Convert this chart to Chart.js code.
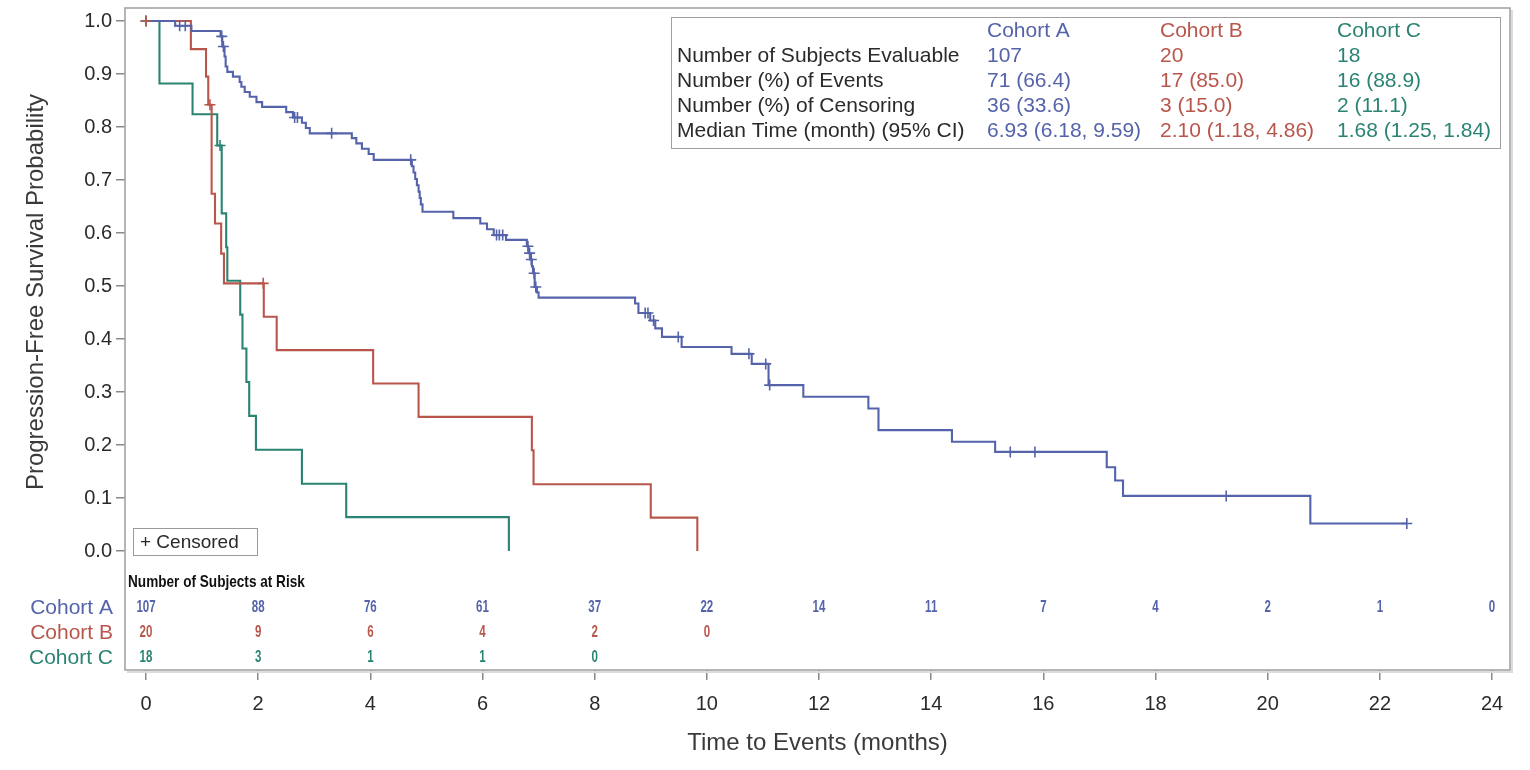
<!DOCTYPE html>
<html>
<head>
<meta charset="utf-8">
<script src="https://cdn.jsdelivr.net/npm/chart.js@4.4.1/dist/chart.umd.min.js"></script>
<style>
html,body{margin:0;padding:0;background:#fff;}
#wrap{width:1530px;height:770px;position:relative;}
</style>
</head>
<body>
<div id="wrap"><canvas id="c"></canvas></div>
<script>
// ---------------- DATA ----------------
const cohorts = ['Cohort A', 'Cohort B', 'Cohort C'];

// Kaplan-Meier step curves: time of each step and survival level after it
const timesA = [0, 0.52, 0.81, 1.33, 1.36, 1.40, 1.42, 1.45, 1.55, 1.67, 1.70, 1.76, 1.85, 1.97, 2.07, 2.50, 2.62, 2.78, 2.85, 2.92, 3.67, 3.75, 3.85, 3.97, 4.06, 4.74, 4.77, 4.80, 4.83, 4.86, 4.88, 4.90, 4.93, 5.48, 5.96, 6.08, 6.20, 6.42, 6.79, 6.82, 6.85, 6.88, 6.90, 6.93, 6.97, 7.00, 8.72, 8.78, 8.99, 9.08, 9.20, 9.55, 10.44, 10.80, 11.10, 11.72, 12.88, 13.06, 14.37, 15.14, 17.13, 17.28, 17.42, 20.76, 22.48];
const survA  = [1.0, 0.991, 0.981, 0.971, 0.952, 0.933, 0.914, 0.904, 0.895, 0.885, 0.876, 0.866, 0.857, 0.847, 0.838, 0.828, 0.818, 0.808, 0.798, 0.788, 0.779, 0.769, 0.759, 0.749, 0.738, 0.726, 0.714, 0.702, 0.690, 0.678, 0.666, 0.654, 0.640, 0.628, 0.618, 0.607, 0.596, 0.587, 0.575, 0.562, 0.550, 0.537, 0.524, 0.498, 0.488, 0.478, 0.467, 0.449, 0.435, 0.420, 0.404, 0.385, 0.372, 0.353, 0.313, 0.291, 0.269, 0.228, 0.206, 0.187, 0.158, 0.133, 0.104, 0.052, 0.052];
const censorA = [0.60, 0.70, 1.35, 1.38, 2.65, 2.70, 3.31, 4.72, 6.25, 6.30, 6.36, 6.81, 6.84, 6.87, 6.92, 6.95, 8.90, 8.95, 9.05, 9.49, 10.75, 11.05, 11.12, 15.41, 15.85, 19.26, 22.48];

const timesB = [0, 0.80, 1.07, 1.11, 1.17, 1.23, 1.34, 1.39, 2.10, 2.33, 4.05, 4.86, 6.88, 6.91, 9.00, 9.83];
const survB  = [1.0, 0.947, 0.895, 0.842, 0.674, 0.618, 0.561, 0.505, 0.442, 0.379, 0.316, 0.253, 0.190, 0.126, 0.063, 0.0];
const censorB = [0.0, 1.14, 2.09];

const timesC = [0, 0.24, 0.83, 1.27, 1.35, 1.43, 1.45, 1.68, 1.72, 1.79, 1.84, 1.96, 2.78, 3.57, 6.47];
const survC  = [1.0, 0.882, 0.824, 0.765, 0.637, 0.573, 0.510, 0.446, 0.382, 0.319, 0.255, 0.191, 0.127, 0.064, 0.0];
const censorC = [0.0, 1.32];

const xTicks = [0, 2, 4, 6, 8, 10, 12, 14, 16, 18, 20, 22, 24];
const yTicks = [0.0, 0.1, 0.2, 0.3, 0.4, 0.5, 0.6, 0.7, 0.8, 0.9, 1.0];

// Number of subjects at risk at each x tick
const riskA = [107, 88, 76, 61, 37, 22, 14, 11, 7, 4, 2, 1, 0];
const riskB = [20, 9, 6, 4, 2, 0];
const riskC = [18, 3, 1, 1, 0];

// Summary table
const statLabels = ['Number of Subjects Evaluable', 'Number (%) of Events', 'Number (%) of Censoring', 'Median Time (month) (95% CI)'];
const statA = ['107', '71 (66.4)', '36 (33.6)', '6.93 (6.18, 9.59)'];
const statB = ['20', '17 (85.0)', '3 (15.0)', '2.10 (1.18, 4.86)'];
const statC = ['18', '16 (88.9)', '2 (11.1)', '1.68 (1.25, 1.84)'];

// ---------------- STYLE ----------------
const COLORS = ['#5563aa', '#b9564c', '#2b8473'];
const FONT = '"Liberation Sans", Arial, sans-serif';
const TEXT = '#2a2a2a';

function levelAt(times, surv, t) {
  let v = surv[0];
  for (let i = 0; i < times.length; i++) if (times[i] <= t) v = surv[i];
  return v;
}
function stepPoints(times, surv) { return times.map((t, i) => ({x: t, y: surv[i]})); }
function censorPoints(cens, times, surv) { return cens.map(t => ({x: t, y: levelAt(times, surv, t)})); }

const curves = [[timesA, survA, censorA], [timesB, survB, censorB], [timesC, survC, censorC]];
const lineSets = curves.map((c, i) => ({
  type: 'line', label: cohorts[i], data: stepPoints(c[0], c[1]), stepped: true,
  borderColor: COLORS[i], borderWidth: 2.1, pointRadius: 0, fill: false, order: 1
}));
const censSets = curves.map((c, i) => ({
  type: 'scatter', label: cohorts[i] + ' censored', data: censorPoints(c[2], c[0], c[1]),
  pointStyle: 'cross', pointRadius: 5.5, pointBorderWidth: 1.6,
  borderColor: COLORS[i], backgroundColor: COLORS[i], showLine: false, order: 0
}));

const decorPlugin = {
  id: 'decor',
  afterDraw(chart) {
    const ctx = chart.ctx, a = chart.chartArea, xs = chart.scales.x, ys = chart.scales.y;
    ctx.save();
    // frame
    ctx.strokeStyle = '#dcdcdc'; ctx.lineWidth = 2;
    ctx.beginPath(); ctx.moveTo(a.right + 2, a.top + 2); ctx.lineTo(a.right + 2, a.bottom + 2); ctx.lineTo(a.left + 2, a.bottom + 2); ctx.stroke();
    ctx.strokeStyle = '#a4a4a4'; ctx.lineWidth = 1.6;
    ctx.strokeRect(a.left, a.top, a.right - a.left, a.bottom - a.top);

    // y title
    ctx.fillStyle = '#3a3a3a';
    ctx.font = '24px ' + FONT;
    ctx.textAlign = 'center'; ctx.textBaseline = 'middle';
    const yMid = (ys.getPixelForValue(0) + ys.getPixelForValue(1)) / 2 + 6;
    ctx.save(); ctx.translate(36, yMid); ctx.rotate(-Math.PI / 2);
    ctx.fillText('Progression-Free Survival Probability', 0, 0); ctx.restore();
    // x title
    ctx.fillText('Time to Events (months)', (a.left + a.right) / 2, 743);

    // censored legend
    ctx.strokeStyle = '#9a9a9a'; ctx.lineWidth = 1;
    ctx.strokeRect(133.5, 528.5, 124, 27);
    ctx.fillStyle = TEXT; ctx.font = '19px ' + FONT; ctx.textAlign = 'left';
    ctx.fillText('+ Censored', 140, 543);

    // at-risk table
    ctx.fillStyle = '#111';
    ctx.save(); ctx.translate(128, 582); ctx.scale(0.8, 1);
    ctx.font = 'bold 17px ' + FONT; ctx.textAlign = 'left';
    ctx.fillText('Number of Subjects at Risk', 0, 0); ctx.restore();
    const risks = [riskA, riskB, riskC];
    const rowY = [608, 633, 658];
    risks.forEach((r, i) => {
      ctx.fillStyle = COLORS[i];
      ctx.font = '21px ' + FONT; ctx.textAlign = 'right';
      ctx.fillText(cohorts[i], 113, rowY[i]);
      ctx.font = 'bold 16px ' + FONT; ctx.textAlign = 'center';
      r.forEach((n, k) => {
        const px = xs.getPixelForValue(xTicks[k]);
        ctx.save(); ctx.translate(px, rowY[i]); ctx.scale(0.72, 1);
        ctx.fillText(String(n), 0, 0); ctx.restore();
      });
    });

    // summary table
    ctx.fillStyle = '#fff';
    ctx.fillRect(671, 17, 829, 131);
    ctx.strokeStyle = '#a0a0a0'; ctx.lineWidth = 1;
    ctx.strokeRect(671.5, 17.5, 829, 131);
    ctx.font = '21px ' + FONT; ctx.textAlign = 'left';
    const colX = [987, 1160, 1337];
    const stats = [statA, statB, statC];
    cohorts.forEach((c, i) => { ctx.fillStyle = COLORS[i]; ctx.fillText(c, colX[i], 31); });
    statLabels.forEach((lab, r) => {
      const y = 56 + r * 25;
      ctx.fillStyle = TEXT; ctx.fillText(lab, 677, y);
      stats.forEach((s, i) => { ctx.fillStyle = COLORS[i]; ctx.fillText(s[r], colX[i], y); });
    });
    ctx.restore();
  }
};

new Chart(document.getElementById('c'), {
  data: { datasets: [...censSets, ...lineSets] },
  options: {
    responsive: true, maintainAspectRatio: false, animation: false,
    layout: { padding: { left: 0, top: 8, right: 20, bottom: 0 } },
    plugins: { legend: { display: false }, tooltip: { enabled: false } },
    scales: {
      x: {
        type: 'linear', min: -0.3745, max: 24.32,
        afterBuildTicks: s => { s.ticks = xTicks.map(v => ({ value: v })); },
        afterFit: s => { s.height = 100; s.paddingLeft = 0; s.paddingRight = 0; },
        ticks: { font: { size: 20, family: FONT }, color: TEXT, padding: 12, maxRotation: 0, autoSkip: false, callback: v => String(v) },
        grid: { drawOnChartArea: false, drawTicks: true, tickLength: 10, color: '#8a8a8a', lineWidth: 1.5 },
        border: { display: false }
      },
      y: {
        type: 'linear', min: -0.2245, max: 1.0245,
        afterBuildTicks: s => { s.ticks = yTicks.map(v => ({ value: v })); },
        afterFit: s => { s.width = 125; s.paddingTop = 0; s.paddingBottom = 0; },
        ticks: { font: { size: 20, family: FONT }, color: TEXT, padding: 4, autoSkip: false, callback: v => Number(v).toFixed(1) },
        grid: { drawOnChartArea: false, drawTicks: true, tickLength: 9, color: '#8a8a8a', lineWidth: 1.5 },
        border: { display: false }
      }
    }
  },
  plugins: [decorPlugin]
});
</script>
</body>
</html>
